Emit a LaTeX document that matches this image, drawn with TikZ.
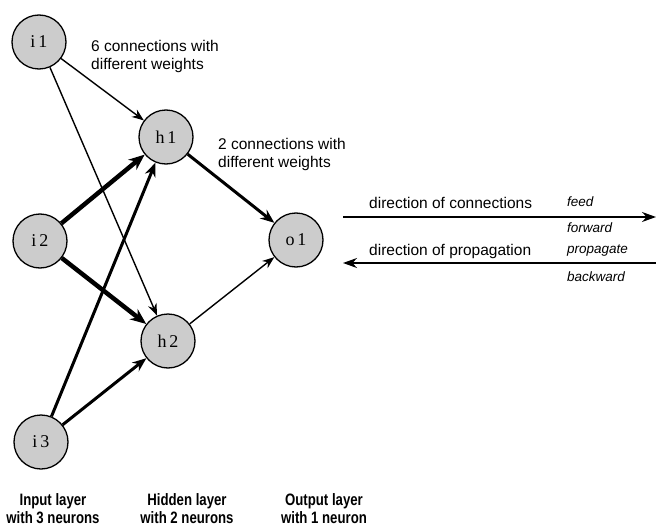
\documentclass[tikz,border=0pt]{standalone}
\usepackage{fontspec}
\setmainfont{Liberation Sans}
\newfontfamily\neuronfont{Liberation Serif}
\newfontfamily\layerfont[FakeStretch=0.8]{Liberation Sans}
\usetikzlibrary{arrows.meta}

\begin{document}
\begin{tikzpicture}[x=1pt, y=-1pt,
    neuron/.style={circle, draw, line width=1.3pt, fill=gray!40, minimum size=54pt, inner sep=0pt, font=\neuronfont\fontsize{18}{18}\selectfont},
    thin/.style={line width=1.4pt, -{Stealth[length=12pt, width=9pt]}},
    thick/.style={line width=3pt, -{Stealth[length=14pt, width=11pt]}},
    thicker/.style={line width=4.5pt, -{Stealth[length=16pt, width=13pt]}},
    note/.style={inner sep=0pt, align=left, font=\fontsize{15.5}{18}\selectfont},
    tag/.style={inner sep=0pt, anchor=west, font=\fontsize{13.5}{16}\selectfont\itshape},
    layer/.style={inner sep=0pt, align=center, font=\layerfont\bfseries\fontsize{16.5}{18}\selectfont}]
    \useasboundingbox (0,0) rectangle (656,527);

    % input layer
    \node[neuron] (i1) at (39,42) {i\,1};
    \node[neuron] (i2) at (40,241) {i\,2};
    \node[neuron] (i3) at (41,442) {i\,3};

    % hidden layer
    \node[neuron] (h1) at (166,137) {h\,1};
    \node[neuron] (h2) at (168,341) {h\,2};

    % output layer
    \node[neuron] (o1) at (296,240) {o\,1};

    % connections input -> hidden
    \draw[thin] (i1) -- (h1);
    \draw[thin] (i1) -- (h2);
    \draw[thicker] (i2) -- (h1);
    \draw[thicker] (i2) -- (h2);
    \draw[thick] (i3) -- (h1);
    \draw[thick] (i3) -- (h2);

    % connections hidden -> output
    \draw[thick] (h1) -- (o1);
    \draw[thin] (h2) -- (o1);

    % notes
    \node[note, anchor=west] (n6) at (91,56) {6 connections with\\different weights};
    \node[note, anchor=west] (n2) at (218,154) {2 connections with\\different weights};

    % feed forward / propagate backward
    \coordinate (fwdL) at (343,217);
    \coordinate (fwdR) at (656,217);
    \coordinate (bwdL) at (343,263);
    \coordinate (bwdR) at (656,263);
    \draw[line width=1.4pt, -{Stealth[length=14pt, width=10pt]}] (fwdL) -- (fwdR);
    \draw[line width=1.4pt, -{Stealth[length=14pt, width=10pt]}] (bwdR) -- (bwdL);

    \node[note, anchor=west] (dcon) at (369,203) {direction of connections};
    \node[note, anchor=west] (dprop) at (369,251) {direction of propagation};
    \node[tag] (feed) at (567,202) {feed};
    \node[tag] (forward) at (567,228) {forward};
    \node[tag] (propagate) at (567,251) {propagate};
    \node[tag] (backward) at (567,277) {backward};

    % layer captions
    \node[layer] (cin) at (53,509) {Input layer\\with 3 neurons};
    \node[layer] (chid) at (187,509) {Hidden layer\\with 2 neurons};
    \node[layer] (cout) at (324,509) {Output layer\\with 1 neuron};
\end{tikzpicture}
\end{document}
